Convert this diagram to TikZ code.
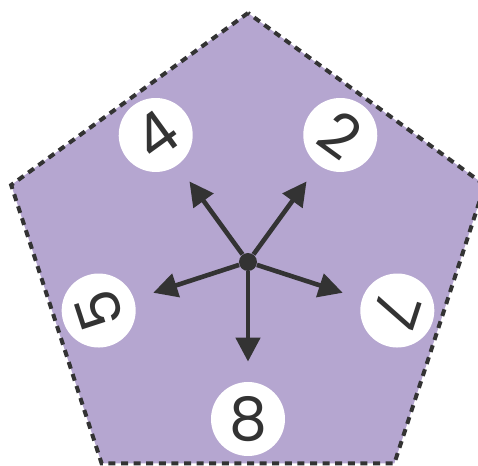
\documentclass[tikz,border=0pt]{standalone}
\usepackage{fontspec}
\setmainfont{Poppins}
\usetikzlibrary{arrows.meta}
\definecolor{lilac}{HTML}{B5A6D0}
\definecolor{ink}{HTML}{333333}
\begin{document}
\begin{tikzpicture}[
  x=0.5pt, y=0.5pt,
  border/.style={draw=ink, fill=lilac, line width=2pt, dash pattern=on 3.5pt off 2.8pt},
  num/.style={circle, fill=white, minimum size=37pt, inner sep=0pt, text=ink,
    font=\fontsize{30}{30}\selectfont},
  hub/.style={circle, fill=ink, minimum size=9pt, inner sep=0pt},
  arrow/.style={-{Triangle[length=12pt,width=12pt]}, draw=ink, fill=ink, line width=2.3pt, shorten >=10pt}
]
\useasboundingbox (-248,-204) rectangle (230,262);
% pentagon
\draw[border] (90:249) -- (162:249) -- (234:249) -- (306:249) -- (18:249) -- cycle;
\node[hub] (centre) at (0,0) {};
\node[num, rotate=36] (four) at (126:157) {4};
\node[num, rotate=-36] (two) at (54:157) {2};
\node[num, rotate=108] (five) at (198:157) {5};
\node[num, rotate=-108] (seven) at (342:157) {7};
\node[num] (eight) at (270:157) {8};
\draw[arrow] (centre) -- (four);
\draw[arrow] (centre) -- (two);
\draw[arrow] (centre) -- (five);
\draw[arrow] (centre) -- (seven);
\draw[arrow] (centre) -- (eight);
\end{tikzpicture}
\end{document}
